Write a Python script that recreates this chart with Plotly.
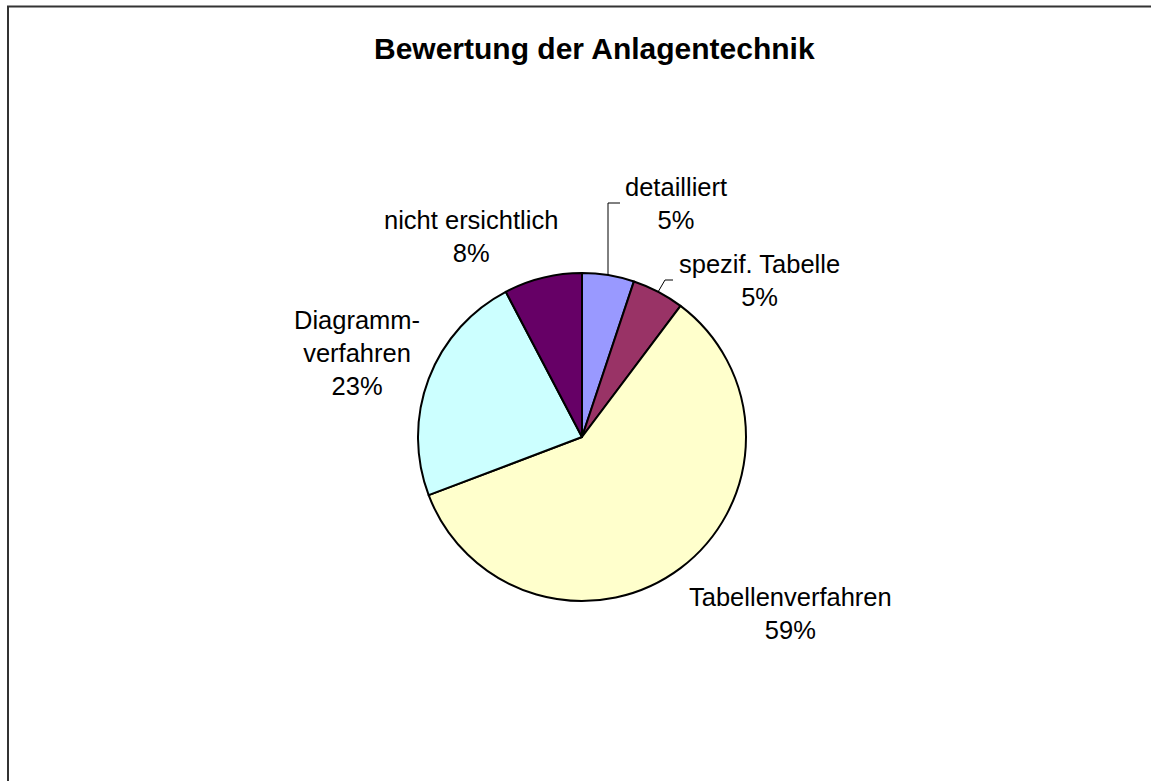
import plotly.graph_objects as go

# data
categories = ["detailliert", "spezif. Tabelle", "Tabellenverfahren", "Diagramm-<br>verfahren", "nicht ersichtlich"]
counts = [2, 2, 23, 9, 3]
colors = ["#9999FF", "#993366", "#FFFFCC", "#CCFFFF", "#660066"]

W, H = 1151, 781
FONT = "Liberation Sans, Arial"


def px(x, y):
    return x / W, 1 - y / H


# label centres (pixels) in the same order as categories
label_pos = [(676, 203), (760, 281), (790, 613), (357, 353), (471, 236)]

cx, cy, r = 582, 437, 164
x0, y1 = px(cx - r, cy - r)
x1, y0 = px(cx + r, cy + r)

fig = go.Figure()
fig.add_trace(go.Pie(
    labels=categories, values=counts, sort=False, direction="clockwise", rotation=0,
    marker=dict(colors=colors, line=dict(color="black", width=2)),
    textinfo="none", hoverinfo="label+percent", showlegend=False,
    domain=dict(x=[x0, x1], y=[y0, y1]),
))

total = sum(counts)
for name, v, (lx, ly) in zip(categories, counts, label_pos):
    ax, ay = px(lx, ly)
    fig.add_annotation(x=ax, y=ay, xref="paper", yref="paper", xanchor="center", yanchor="middle",
                       showarrow=False, text=f"{name}<br>{round(v / total * 100)}%", align="center",
                       font=dict(size=25.5, color="black", family=FONT))

# leader lines for the two small slices
leaders = [[(608, 275), (608, 203), (620, 203)],
           [(658, 292), (665, 280), (673, 280)]]
for pts in leaders:
    path = "M " + " L ".join(f"{px(x, y)[0]},{px(x, y)[1]}" for x, y in pts)
    fig.add_shape(type="path", path=path, xref="paper", yref="paper",
                  line=dict(color="black", width=1))

# chart area border (runs off the right and bottom edges)
bx, by = px(8, 6.5)
fig.add_shape(type="rect", xref="paper", yref="paper", x0=bx, y0=-0.05, x1=1.05, y1=by,
              line=dict(color="#333333", width=2))

tx, ty = px(594, 48)
fig.add_annotation(x=tx, y=ty, xref="paper", yref="paper", xanchor="center", yanchor="middle",
                   showarrow=False, text="<b>Bewertung der Anlagentechnik</b>",
                   font=dict(size=30, color="black", family=FONT))

fig.update_layout(width=W, height=H, margin=dict(l=0, r=0, t=0, b=0),
                  paper_bgcolor="white", plot_bgcolor="white")
fig.write_html("out.html", config={"displayModeBar": False},
               post_script="document.body.style.margin='0';")
